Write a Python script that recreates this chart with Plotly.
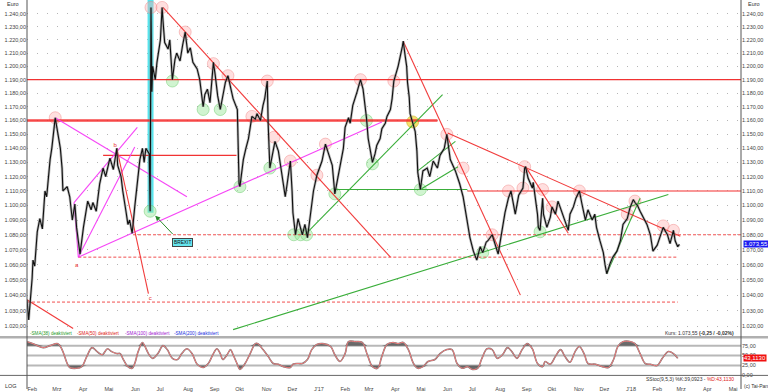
import numpy as np
import pandas as pd
import plotly.graph_objects as go

BASE = pd.Timestamp("2016-02-01")

# ---------------- data (days since 2016-02-01, price in Euro) ----------------
price_day = [0, 2, 6, 7, 9, 12, 15, 18, 21, 23, 27, 29, 33, 36, 39, 41, 42, 47, 50, 53,
             56, 58, 62, 66, 69, 71, 75, 77, 81, 85, 89, 92, 97, 101, 105, 106, 110, 112, 116, 118,
             120, 123, 126, 130, 132, 135, 137, 139, 143, 144, 145, 146, 147, 150, 152, 156, 158, 159, 161, 165,
             167, 170, 173, 175, 179, 182, 185, 188, 191, 194, 199, 202, 206, 208, 211, 214, 218, 220, 223, 226,
             229, 232, 235, 239, 241, 246, 247, 248, 249, 253, 256, 259, 263, 267, 269, 273, 276, 278, 281, 282,
             284, 290, 294, 298, 302, 304, 308, 310, 311, 314, 317, 322, 325, 328, 331, 335, 339, 345, 349, 352,
             357, 360, 363, 366, 370, 372, 376, 378, 381, 386, 390, 393, 397, 399, 404, 407, 409, 413, 415, 419,
             421, 425, 427, 429, 434, 439, 440, 442, 444, 445, 447, 448, 451, 454, 456, 457, 460, 463, 468, 471,
             475, 480, 483, 488, 491, 495, 501, 506, 510, 515, 518, 522, 526, 530, 533, 537, 539, 544, 547, 551,
             553, 557, 559, 561, 563, 566, 570, 571, 575, 580, 582, 583, 586, 591, 592, 594, 597, 598, 600, 603,
             604, 608, 612, 614, 618, 621, 626, 629, 633, 635, 639, 642, 646, 649, 653, 656, 661, 664, 666, 670,
             674, 676, 678, 682, 685, 690, 694, 697, 702, 705, 709, 711, 714, 717, 721, 725, 729, 732, 737, 740,
             744, 749, 752, 756, 758, 761, 763]
price_val = [1037, 1024, 1051, 1063, 1059, 1082, 1091, 1084, 1110, 1106, 1132, 1140, 1162, 1152, 1140, 1126, 1110, 1113, 1106, 1090,
             1101, 1085, 1067, 1085, 1095, 1103, 1097, 1102, 1096, 1115, 1126, 1120, 1133, 1125, 1140, 1128, 1120, 1110, 1095, 1087,
             1090, 1081, 1099, 1119, 1132, 1140, 1130, 1140, 1136, 1096, 1245, 1181, 1200, 1190, 1203, 1220, 1245, 1235, 1218, 1213,
             1220, 1190, 1205, 1210, 1204, 1216, 1226, 1210, 1214, 1203, 1198, 1190, 1170, 1179, 1183, 1173, 1203, 1194, 1178, 1168,
             1179, 1188, 1193, 1182, 1176, 1168, 1132, 1115, 1113, 1132, 1140, 1147, 1163, 1161, 1165, 1160, 1171, 1176, 1189, 1158,
             1126, 1145, 1138, 1122, 1106, 1114, 1131, 1110, 1095, 1080, 1091, 1080, 1087, 1078, 1091, 1110, 1121, 1131, 1143, 1137,
             1128, 1108, 1118, 1126, 1140, 1155, 1162, 1158, 1171, 1181, 1190, 1183, 1162, 1147, 1130, 1136, 1142, 1147, 1154, 1158,
             1163, 1168, 1176, 1189, 1200, 1215, 1219, 1209, 1200, 1188, 1177, 1165, 1159, 1152, 1138, 1123, 1111, 1124, 1126, 1120,
             1131, 1126, 1135, 1140, 1150, 1132, 1124, 1115, 1106, 1090, 1078, 1069, 1063, 1072, 1068, 1075, 1076, 1080, 1074, 1067,
             1074, 1089, 1095, 1100, 1105, 1110, 1099, 1094, 1107, 1112, 1126, 1127, 1119, 1112, 1116, 1107, 1094, 1085, 1083, 1105,
             1094, 1085, 1092, 1099, 1094, 1103, 1094, 1090, 1083, 1094, 1099, 1105, 1110, 1101, 1090, 1097, 1090, 1094, 1085, 1076,
             1068, 1060, 1054, 1061, 1065, 1069, 1076, 1087, 1091, 1098, 1104, 1102, 1100, 1096, 1091, 1087, 1080, 1069, 1073, 1078,
             1085, 1080, 1074, 1083, 1076, 1072, 1073.55]

stoch_day = [0, 7, 19, 27, 36, 41, 47, 50, 58, 64, 70, 76, 82, 88, 94, 99, 105, 109, 112, 118,
             123, 126, 130, 135, 138, 142, 147, 153, 159, 164, 170, 176, 181, 187, 193, 199, 206, 212, 218, 222,
             226, 229, 234, 238, 241, 246, 249, 255, 261, 267, 270, 276, 282, 288, 294, 300, 308, 311, 317, 322,
             328, 333, 339, 346, 355, 360, 366, 372, 376, 384, 392, 398, 404, 410, 415, 421, 428, 434, 440, 446,
             452, 457, 463, 469, 477, 483, 491, 497, 503, 509, 515, 521, 527, 532, 538, 544, 550, 556, 562, 567,
             573, 579, 585, 591, 597, 603, 606, 612, 618, 624, 629, 635, 641, 646, 652, 656, 665, 673, 680, 686,
             691, 697, 706, 711, 717, 723, 729, 737, 743, 750, 756, 761]
stoch_val = [85, 80, 70, 75, 80, 65, 30, 20, 18, 22, 48, 70, 60, 52, 67, 60, 55, 55, 43, 22,
             18, 30, 60, 83, 73, 55, 43, 55, 75, 65, 43, 40, 55, 67, 55, 28, 20, 30, 55, 67,
             55, 40, 52, 65, 52, 28, 15, 30, 55, 80, 80, 65, 48, 30, 28, 22, 20, 28, 30, 30,
             40, 65, 78, 80, 73, 52, 35, 55, 85, 85, 83, 52, 22, 18, 48, 78, 83, 80, 83, 65,
             30, 18, 22, 35, 40, 55, 65, 65, 30, 18, 22, 15, 18, 43, 67, 65, 43, 52, 70, 60,
             43, 65, 80, 67, 30, 22, 35, 28, 48, 65, 48, 33, 60, 73, 52, 30, 28, 22, 20, 40,
             73, 85, 85, 80, 55, 30, 28, 25, 43, 60, 55, 43.113]

# trend / support lines: (day0, value0, day1, value1)
red_trend = [(0, 1037, 54, 1018.5), (105, 1140, 142, 1041), (159, 1245, 425, 1065),
             (440, 1219, 577, 1040), (492, 1151, 764, 1079), (583, 1127, 633, 1081)]
red_levels = [(0, 1190, 835, 1190), (89, 1135, 245, 1135)]
red_level_thick = [(0, 1160, 480, 1160)]
red_level_light = [(515, 1110, 835, 1110)]
red_dashed = [(124, 1080, 835, 1080), (60, 1065, 761, 1065), (0, 1035.5, 761, 1035.5)]
green_lines = [(360, 1111, 515, 1111), (241, 1017.8, 750, 1107.5), (325, 1080, 486, 1179),
               (457, 1124, 501, 1145), (460, 1111, 504, 1127), (678, 1054, 717, 1105)]
magenta_lines = [(33, 1162, 187, 1106), (60, 1065, 415, 1159), (55, 1102, 129, 1155),
                 (60, 1065, 126, 1141), (55, 1102, 60, 1065)]

peak_day = [33, 145, 158, 185, 218, 235, 263, 281, 289, 308, 339, 349, 390, 429, 491, 510, 544,
            563, 580, 582, 603, 614, 646, 702, 711, 744, 756]
peak_val = [1162, 1245, 1245, 1226, 1202, 1193, 1163, 1189, 1148, 1131, 1121, 1143, 1190, 1189, 1150, 1126, 1080,
            1110, 1112, 1127, 1111, 1099, 1110, 1094, 1103, 1086, 1083]
trough_day = [144, 170, 206, 226, 249, 284, 312, 320, 327, 360, 397, 404, 460, 533, 600]
trough_val = [1096, 1189, 1168, 1168, 1113, 1126, 1080, 1080, 1080, 1108, 1160, 1129, 1111, 1068, 1082]
yellow_day = [451]
yellow_val = [1159]

brexit_span = (141, 148)
wave_labels = ["a", "b", "c"]
wave_day = [58, 103, 144]
wave_val = [1059.5, 1142, 1038]

y_ticks = list(range(1020, 1250, 10))
month_labels = ["Feb", "Mrz", "Apr", "Mai", "Jun", "Jul", "Aug", "Sep", "Okt", "Nov", "Dez", "J'17",
                "Feb", "Mrz", "Apr", "Mai", "Jun", "Jul", "Aug", "Sep", "Okt", "Nov", "Dez", "J'18",
                "Feb", "Mrz", "Apr", "Mai"]
month_ticks = pd.date_range("2016-02-01", "2018-05-01", freq="MS")
stoch_ticks = [0, 25, 50, 75]
last_price = 1073.55
last_d = 43.113


def dt(d):
    return (BASE + pd.to_timedelta(d, unit="D")).strftime("%Y-%m-%d")


def de_fmt(v):
    s = f"{v:,.2f}"
    return s.replace(",", "X").replace(".", ",").replace("X", ".")


W, H = 768, 392
X0, X1 = 27 / W, 741 / W
FONT = "Liberation Sans"

fig = go.Figure()

# Brexit band
fig.add_trace(go.Scatter(
    x=[dt(brexit_span[0]), dt(brexit_span[1]), dt(brexit_span[1]), dt(brexit_span[0]), dt(brexit_span[0])],
    y=[1095, 1095, 1252, 1252, 1095], fill="toself", fillcolor="rgba(70,225,235,0.9)",
    mode="lines", line=dict(width=0), hoverinfo="skip"))

# circles
fig.add_trace(go.Scatter(x=[dt(d) for d in peak_day], y=peak_val, mode="markers",
                         marker=dict(size=12, color="rgba(255,170,170,0.38)",
                                     line=dict(color="rgba(240,130,130,0.45)", width=1)),
                         hoverinfo="skip"))
fig.add_trace(go.Scatter(x=[dt(d) for d in trough_day], y=trough_val, mode="markers",
                         marker=dict(size=12, color="rgba(150,230,150,0.45)",
                                     line=dict(color="rgba(100,200,100,0.45)", width=1)),
                         hoverinfo="skip"))
fig.add_trace(go.Scatter(x=[dt(d) for d in yellow_day], y=yellow_val, mode="markers",
                         marker=dict(size=12, color="rgba(240,215,60,0.75)",
                                     line=dict(color="rgba(200,180,40,0.6)", width=1)),
                         hoverinfo="skip"))


def add_lines(segs, color, width, dash="solid", xa="x", ya="y"):
    for d0, v0, d1, v1 in segs:
        fig.add_trace(go.Scatter(x=[dt(d0), dt(d1)], y=[v0, v1], mode="lines",
                                 line=dict(color=color, width=width, dash=dash),
                                 hoverinfo="skip", xaxis=xa, yaxis=ya))


add_lines(red_dashed, "rgba(240,60,60,0.9)", 1, dash="3px,2px")
add_lines(red_level_thick, "rgba(245,40,40,0.85)", 2.5)
add_lines(red_levels, "rgba(240,40,40,0.95)", 1.3)
add_lines(red_level_light, "rgba(245,90,90,0.85)", 1.5)
add_lines(green_lines, "#3aae3a", 1.1)
add_lines(magenta_lines, "rgba(245,60,245,0.95)", 1.1)
add_lines(red_trend, "rgba(240,50,50,0.95)", 1.1)

# price
px = [dt(d) for d in price_day]
fig.add_trace(go.Scatter(x=px, y=price_val, mode="lines",
                         line=dict(color="rgba(130,130,130,0.55)", width=2.6), hoverinfo="skip"))
fig.add_trace(go.Scatter(x=px, y=price_val, mode="lines",
                         line=dict(color="#111111", width=1.1), hoverinfo="skip"))

# wave labels
fig.add_trace(go.Scatter(x=[dt(d) for d in wave_day], y=wave_val, mode="text", text=wave_labels,
                         textfont=dict(color="#e83030", size=6, family=FONT), hoverinfo="skip"))

# dummy for right axis
fig.add_trace(go.Scatter(x=[dt(0)], y=[1100], yaxis="y3", mode="markers",
                         marker=dict(opacity=0), hoverinfo="skip"))

# stochastic panel
sd = [dt(d) for d in stoch_day]
sv = np.array(stoch_val, dtype=float)
upper = np.maximum(sv, 75)
lower = np.minimum(sv, 25)
for base, arr in ((75, upper), (25, lower)):
    fig.add_trace(go.Scatter(x=sd, y=[base] * len(sd), mode="lines", line=dict(width=0),
                             xaxis="x2", yaxis="y2", hoverinfo="skip"))
    fig.add_trace(go.Scatter(x=sd, y=arr, mode="lines", line=dict(width=0), fill="tonexty",
                             fillcolor="rgba(80,80,80,0.85)", xaxis="x2", yaxis="y2", hoverinfo="skip"))
fig.add_trace(go.Scatter(x=sd, y=sv, mode="lines", line=dict(color="#777777", width=1.6, shape="spline"),
                         xaxis="x2", yaxis="y2", hoverinfo="skip"))
fig.add_trace(go.Scatter(x=sd, y=sv, mode="lines", line=dict(color="#f27c7c", width=1.0, shape="spline"),
                         xaxis="x2", yaxis="y2", hoverinfo="skip"))

ytxt = [de_fmt(v) for v in y_ticks]
yr = [np.log10(1013.5), np.log10(1250.8)]
xr = [dt(0), dt(835)]
tickfont = dict(size=5.5, color="#444", family=FONT)

fig.update_layout(
    width=W, height=H, margin=dict(l=0, r=0, t=0, b=0),
    paper_bgcolor="white", plot_bgcolor="white", showlegend=False,
    font=dict(family=FONT, size=6, color="#333"),
    xaxis=dict(domain=[X0, X1], range=xr, type="date", showticklabels=False, showgrid=False,
               zeroline=False, anchor="y", fixedrange=True),
    yaxis=dict(domain=[1 - 339 / H, 1], type="log", range=yr, tickvals=y_ticks, ticktext=ytxt,
               showgrid=True, gridcolor="#b5b5b5", griddash="1px,9px", gridwidth=1,
               ticks="", tickfont=tickfont, anchor="x", side="left", zeroline=False),
    yaxis3=dict(overlaying="y", type="log", range=yr, tickvals=y_ticks, ticktext=ytxt,
                showgrid=False, ticks="", tickfont=tickfont, anchor="x", side="right", zeroline=False),
    xaxis2=dict(domain=[X0, X1], range=xr, type="date", anchor="y2", tickvals=list(month_ticks),
                ticktext=month_labels, ticklabelposition="outside right", showgrid=False,
                ticks="outside", ticklen=0, tickfont=tickfont, zeroline=False),
    yaxis2=dict(domain=[1 - 386 / H, 1 - 341 / H], range=[-19.25, 93.25], side="right", anchor="x2",
                tickvals=stoch_ticks, ticktext=[de_fmt(v) for v in stoch_ticks], showgrid=False,
                ticks="", tickfont=tickfont, zeroline=False),
)

shapes = []
for lvl in (75, 50, 25):
    shapes.append(dict(type="line", xref="paper", yref="y2", x0=X0, x1=X1, y0=lvl, y1=lvl,
                       line=dict(color="#b8b8b8", width=2), layer="below"))
shapes.append(dict(type="line", xref="paper", yref="paper", x0=0, x1=1,
                   y0=1 - 339.8 / H, y1=1 - 339.8 / H, line=dict(color="#b0b0b0", width=2.5)))
shapes.append(dict(type="line", xref="paper", yref="paper", x0=0, x1=1,
                   y0=1 - 378.3 / H, y1=1 - 378.3 / H, line=dict(color="#666", width=1)))
for xp in (X0, X1):
    shapes.append(dict(type="line", xref="paper", yref="paper", x0=xp, x1=xp, y0=0, y1=1,
                       line=dict(color="#555", width=1)))
fig.update_layout(shapes=shapes)

ann = []


def txt(x, y, s, color="#333", size=5.5, xanchor="left", **kw):
    ann.append(dict(xref="paper", yref="paper", x=x / W, y=1 - y / H, text=s, showarrow=False,
                    xanchor=xanchor, yanchor="middle", font=dict(size=size, color=color, family=FONT), **kw))


txt(5, 4, "Euro")
txt(746, 4, "Euro")
txt(3, 389, "LOG")
txt(742, 389, "(c) Tai-Pan", size=5)
txt(28, 336, "-SMA(38) deaktiviert", color="#2a9a2a", size=4.6)
txt(75, 336, "-SMA(50) deaktiviert", color="#e02020", size=4.6)
txt(123, 336, "-SMA(100) deaktiviert", color="#a020d0", size=4.6)
txt(172, 336, "-SMA(200) deaktiviert", color="#2030e0", size=4.6)
txt(736, 335.5, f"Kurs: {de_fmt(last_price)} <b>(-0,25 / -0,02%)</b>", xanchor="right", size=5)
txt(736, 381.5, "SStoc(9,5,3) %K:39,0923 - <span style='color:#e02020'>%D:43,1130</span>",
    xanchor="right", size=5)

# value boxes on the right
ann.append(dict(xref="paper", yref="y", x=743 / W, y=np.log10(last_price), text=de_fmt(last_price),
                showarrow=False, xanchor="left", yanchor="middle", bgcolor="#1c1cf0", borderpad=0,
                font=dict(size=6, color="white", family=FONT)))
ann.append(dict(xref="paper", yref="y2", x=743 / W, y=last_d, text="43,1130",
                showarrow=False, xanchor="left", yanchor="middle", bgcolor="#f01010", borderpad=0,
                font=dict(size=6, color="white", family=FONT)))

# Brexit box + arrow
ann.append(dict(xref="x", yref="y", x=dt(182), y=np.log10(1074.7), text="BREXIT", showarrow=False,
                bgcolor="#66e6ee", bordercolor="#444", borderwidth=1, borderpad=1,
                font=dict(size=4.8, color="#111", family=FONT)))
ann.append(dict(xref="x", yref="y", x=dt(150), y=np.log10(1093), axref="x", ayref="y",
                ax=dt(172), ay=np.log10(1079.5), text="", showarrow=True, arrowhead=2,
                arrowsize=1, arrowwidth=1, arrowcolor="#2a8a2a"))
fig.update_layout(annotations=ann)

fig.write_html("out.html")
